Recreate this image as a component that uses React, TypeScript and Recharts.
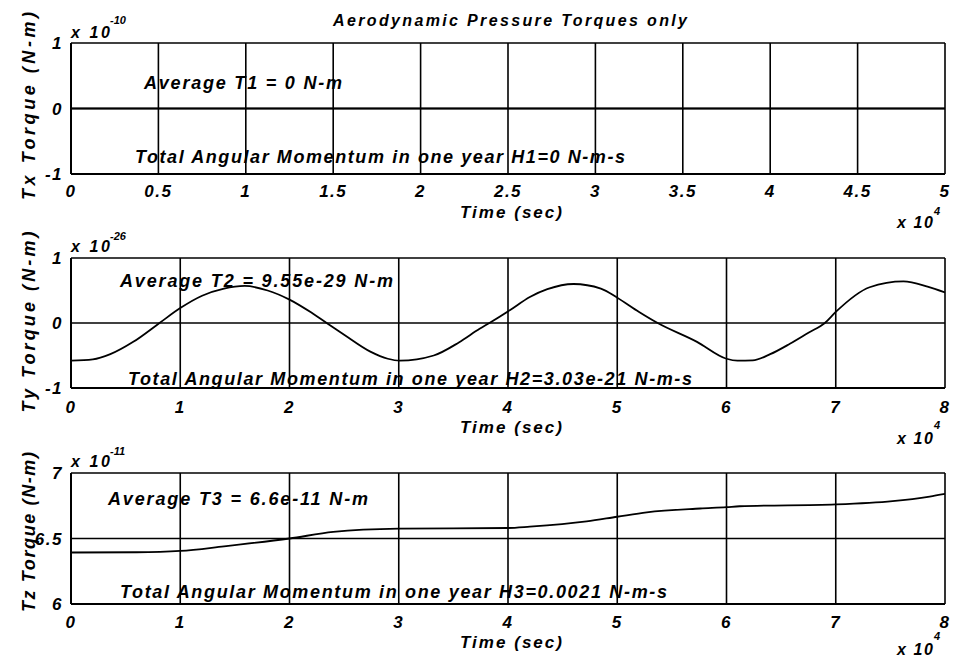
import React from 'react';
import { LineChart, Line, XAxis, YAxis, CartesianGrid } from 'recharts';

const FONT = "'Liberation Sans', Arial, Helvetica, sans-serif";

// ---- Panel 1: Tx torque (x 1e-10 N-m) ----
const TX_TIME = [0, 10000, 20000, 30000, 40000, 50000];
const TX_TORQUE = [0, 0, 0, 0, 0, 0];
const TX_XTICKS = [0, 5000, 10000, 15000, 20000, 25000, 30000, 35000, 40000, 45000, 50000];
const TX_YTICKS = [-1, 0, 1];

// ---- Panel 2: Ty torque (x 1e-26 N-m) ----
const TY_TIME = [0, 2000, 3600, 5700, 8100, 10000, 12000, 14000, 15900, 18000, 20000, 22000, 23400, 25000, 27400, 29000, 30100, 33200, 35500, 37400, 38300, 40200, 42000, 43600, 46000, 48500, 50000, 52000, 53700, 57300, 60000, 61000, 62400, 64000, 65800, 67500, 69000, 70000, 73100, 76200, 78400, 80000];
const TY_TORQUE = [-0.58, -0.56, -0.48, -0.29, 0, 0.23, 0.42, 0.53, 0.57, 0.5, 0.36, 0.16, 0, -0.18, -0.44, -0.55, -0.58, -0.5, -0.3, -0.09, 0, 0.2, 0.4, 0.52, 0.6, 0.53, 0.39, 0.17, 0, -0.29, -0.55, -0.58, -0.575, -0.48, -0.32, -0.15, 0, 0.17, 0.55, 0.64, 0.56, 0.47];
const TY_XTICKS = [0, 10000, 20000, 30000, 40000, 50000, 60000, 70000, 80000];
const TY_YTICKS = [-1, 0, 1];

// ---- Panel 3: Tz torque (x 1e-11 N-m) ----
const TZ_TIME = [0, 6000, 10000, 14000, 20000, 24000, 30000, 35000, 40000, 42000, 47200, 50000, 52700, 57600, 60000, 61200, 70000, 75200, 78600, 80000];
const TZ_TORQUE = [6.393, 6.395, 6.405, 6.44, 6.5, 6.55, 6.575, 6.578, 6.58, 6.59, 6.63, 6.666, 6.7, 6.729, 6.739, 6.746, 6.76, 6.785, 6.82, 6.84];
const TZ_XTICKS = [0, 10000, 20000, 30000, 40000, 50000, 60000, 70000, 80000];
const TZ_YTICKS = [6, 6.5, 7];

const TITLE = 'Aerodynamic Pressure Torques only';
const Y_LABELS = ['Tx Torque (N-m)', 'Ty Torque (N-m)', 'Tz Torque (N-m)'];
const X_LABEL = 'Time (sec)';
const Y_EXPONENTS = ['-10', '-26', '-11'];
const AVERAGES = ['Average T1 = 0 N-m', 'Average T2 = 9.55e-29 N-m', 'Average T3 = 6.6e-11 N-m'];
const TOTALS = [
  'Total Angular Momentum in one year H1=0 N-m-s',
  'Total Angular Momentum in one year H2=3.03e-21 N-m-s',
  'Total Angular Momentum in one year H3=0.0021 N-m-s',
];

const build = (t: number[], v: number[]) => t.map((x, i) => ({ t: x, v: v[i] }));

const tickStyle = {
  fontSize: 17,
  fontWeight: 'bold',
  fontStyle: 'italic',
  fill: '#000',
  fontFamily: FONT,
  letterSpacing: 1.5,
};

type PanelProps = {
  top: number;
  height: number;
  mTop: number;
  mBottom: number;
  data: { t: number; v: number }[];
  xDomain: [number, number];
  xTicks: number[];
  yDomain: [number, number];
  yTicks: number[];
  xTickMargin: number;
};

function Panel(p: PanelProps) {
  return (
    <div style={{ position: 'absolute', left: 0, top: p.top }}>
      <LineChart
        width={954}
        height={p.height}
        data={p.data}
        margin={{ top: p.mTop, right: 9, bottom: p.mBottom, left: 31 }}
      >
        <CartesianGrid stroke="#000" strokeWidth={1.6} horizontalValues={p.yTicks} verticalValues={p.xTicks} />
        <XAxis
          type="number"
          dataKey="t"
          domain={p.xDomain}
          ticks={p.xTicks}
          allowDataOverflow
          height={30}
          tickLine={false}
          tickSize={0}
          tickMargin={p.xTickMargin}
          axisLine={{ stroke: '#000', strokeWidth: 2 }}
          tick={tickStyle}
          tickFormatter={(x: number) => String(x / 10000)}
          interval={0}
        />
        <YAxis
          type="number"
          domain={p.yDomain}
          ticks={p.yTicks}
          allowDataOverflow
          width={40}
          tickLine={false}
          tickSize={0}
          tickMargin={8}
          axisLine={{ stroke: '#000', strokeWidth: 2 }}
          tick={tickStyle}
          interval={0}
        />
        <Line
          type="monotone"
          dataKey="v"
          stroke="#000"
          strokeWidth={1.8}
          dot={false}
          isAnimationActive={false}
        />
      </LineChart>
    </div>
  );
}

const txt = {
  fontFamily: FONT,
  fontWeight: 'bold' as const,
  fontStyle: 'italic' as const,
  fill: '#000',
};

const PANEL_TEXT = [
  { avgX: 144, avgY: 89, avgLen: 198, totX: 135, totY: 163, totLen: 490, ylC: 106, ylLen: 188, timeY: 218, expY: 38, expSupY: 24, x4Y: 228, x4SupY: 215 },
  { avgX: 120, avgY: 286.5, avgLen: 273, totX: 128, totY: 384.5, totLen: 564, ylC: 322, ylLen: 181, timeY: 433, expY: 252, expSupY: 240, x4Y: 444, x4SupY: 429 },
  { avgX: 108, avgY: 505, avgLen: 260, totX: 120, totY: 598, totLen: 547, ylC: 532, ylLen: 160, timeY: 648, expY: 467, expSupY: 455, x4Y: 655, x4SupY: 640 },
];

export default function App() {
  return (
    <div style={{ position: 'absolute', left: 0, top: 0, width: 954, height: 659, background: '#fff', overflow: 'hidden' }}>
      <Panel top={0} height={228} mTop={43} mBottom={24} data={build(TX_TIME, TX_TORQUE)} xDomain={[0, 50000]} xTicks={TX_XTICKS} yDomain={[-1, 1]} yTicks={TX_YTICKS} xTickMargin={11} />
      <Panel top={228} height={212} mTop={30} mBottom={22} data={build(TY_TIME, TY_TORQUE)} xDomain={[0, 80000]} xTicks={TY_XTICKS} yDomain={[-1, 1]} yTicks={TY_YTICKS} xTickMargin={13} />
      <Panel top={440} height={219} mTop={33} mBottom={25} data={build(TZ_TIME, TZ_TORQUE)} xDomain={[0, 80000]} xTicks={TZ_XTICKS} yDomain={[6, 7]} yTicks={TZ_YTICKS} xTickMargin={12} />
      <svg width={954} height={659} style={{ position: 'absolute', left: 0, top: 0, pointerEvents: 'none' }}>
        <text x={333} y={26} fontSize={16} textLength={354} lengthAdjust="spacing" {...txt}>{TITLE}</text>
        {PANEL_TEXT.map((pt, i) => (
          <g key={i}>
            <text x={pt.avgX} y={pt.avgY} fontSize={18} textLength={pt.avgLen} lengthAdjust="spacing" {...txt}>{AVERAGES[i]}</text>
            <text x={pt.totX} y={pt.totY} fontSize={18} textLength={pt.totLen} lengthAdjust="spacing" {...txt}>{TOTALS[i]}</text>
            <text transform={`translate(35,${pt.ylC + pt.ylLen / 2}) rotate(-90)`} fontSize={18} textLength={pt.ylLen} lengthAdjust="spacing" {...txt}>{Y_LABELS[i]}</text>
            <text x={460} y={pt.timeY} fontSize={17} textLength={102} lengthAdjust="spacing" {...txt}>{X_LABEL}</text>
            <text x={71} y={pt.expY} fontSize={16} textLength={39} lengthAdjust="spacing" {...txt}>x 10</text>
            <text x={110} y={pt.expSupY} fontSize={11} {...txt}>{Y_EXPONENTS[i]}</text>
            <text x={897} y={pt.x4Y} fontSize={16} textLength={36} lengthAdjust="spacing" {...txt}>x 10</text>
            <text x={934} y={pt.x4SupY} fontSize={11} {...txt}>4</text>
          </g>
        ))}
      </svg>
    </div>
  );
}
